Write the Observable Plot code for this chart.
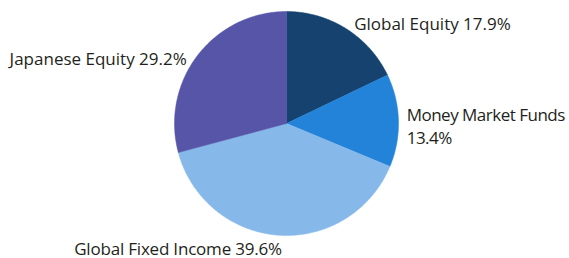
<!DOCTYPE html>
<html>
<head>
<meta charset="utf-8">
<script src="https://cdn.jsdelivr.net/npm/d3@7"></script>
<script src="https://cdn.jsdelivr.net/npm/@observablehq/plot@0.6"></script>
<style>
  html, body { margin: 0; padding: 0; background: #fff; }
</style>
</head>
<body>
<div id="chart"></div>
<script>
const categories = ["Global Equity", "Money Market Funds", "Global Fixed Income", "Japanese Equity"];
const shares = [17.9, 13.4, 39.6, 29.2];
const colors = ["#15426e", "#2383d9", "#86b9ea", "#5655a8"];
const labelSeparators = [" ", "\n", " ", " "];

const W = 569, H = 258;
const cx = 286, cy = 123, R = 112;

const pie = d3.pie().sort(null).value(d => d.share);
const arcs = pie(categories.map((c, i) => ({cat: c, share: shares[i]})));

// polygon points for each slice (angles clockwise from 12 o'clock)
const pts = [];
arcs.forEach(a => {
  const cat = a.data.cat;
  pts.push({cat, x: 0, y: 0});
  const n = Math.max(8, Math.ceil((a.endAngle - a.startAngle) / 0.01));
  for (let k = 0; k <= n; k++) {
    const t = a.startAngle + (a.endAngle - a.startAngle) * k / n;
    pts.push({cat, x: Math.sin(t), y: Math.cos(t)});
  }
  pts.push({cat, x: 0, y: 0});
});

const labels = arcs.map((a, i) => {
  const m = (a.startAngle + a.endAngle) / 2;
  return {
    cat: a.data.cat,
    text: `${a.data.cat}${labelSeparators[i]}${shares[i]}%`,
    x: 1.1 * Math.sin(m),
    y: 1.1 * Math.cos(m)
  };
});

const labelStyle = [
  {textAnchor: "start", dx: 2, dy: 3, spacing: 0},
  {textAnchor: "start", dx: -3, dy: 5, spacing: -0.5},
  {textAnchor: "end", dx: 3.5, dy: 1.5, spacing: -0.2},
  {textAnchor: "end", dx: -2, dy: 9.5, spacing: 0}
];

const chart = Plot.plot({
  width: W,
  height: H,
  margin: 0,
  x: {domain: [-cx / R, (W - cx) / R], axis: null},
  y: {domain: [-(H - cy) / R, cy / R], axis: null},
  color: {domain: categories, range: colors},
  style: {fontFamily: "'Open Sans', sans-serif", fontSize: "17px", color: "#231f20", background: "#fff"},
  marks: [
    Plot.line(pts, {x: "x", y: "y", z: "cat", fill: "cat", stroke: "cat", strokeWidth: 0.5, curve: "linear"}),
    ...labels.map((l, i) => Plot.text([l], {
      x: "x", y: "y", text: "text",
      textAnchor: labelStyle[i].textAnchor,
      dx: labelStyle[i].dx, dy: labelStyle[i].dy,
      lineHeight: 1.35,
      fill: "#231f20",
      fontSize: 17
    }))
  ]
});

// per-label letter spacing
d3.select(chart).selectAll("g[aria-label='text']").each(function(_, i) {
  d3.select(this).style("letter-spacing", labelStyle[i].spacing + "px");
});

document.getElementById("chart").appendChild(chart);
</script>
</body>
</html>
